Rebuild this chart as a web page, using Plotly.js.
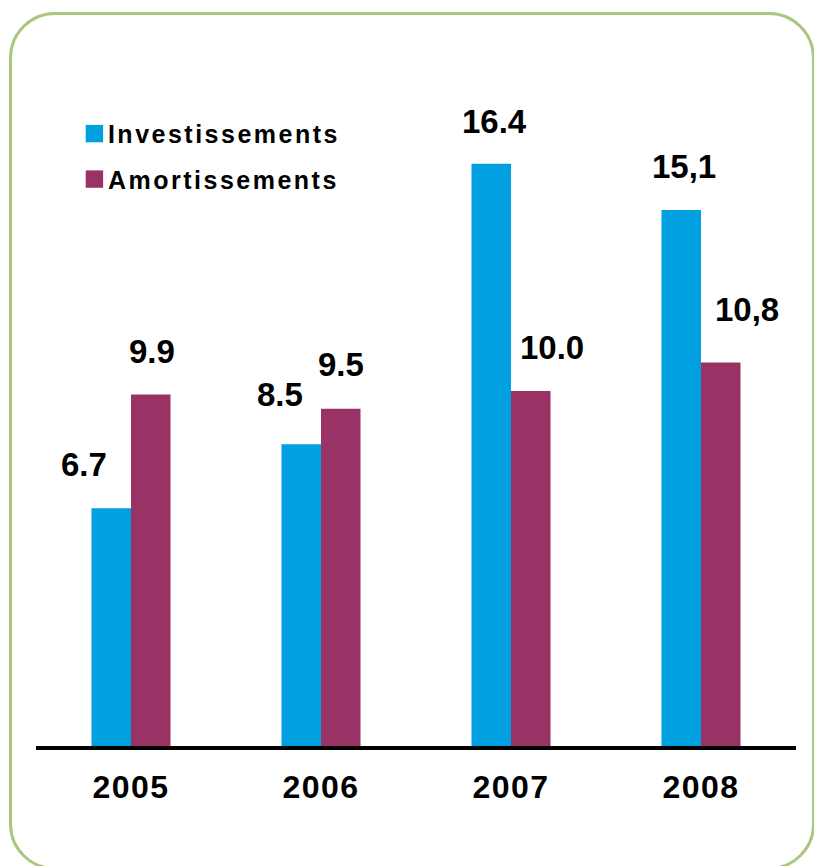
<!DOCTYPE html>
<html>
<head>
<meta charset="utf-8">
<script src="https://cdn.plot.ly/plotly-3.0.1.min.js"></script>
<style>
  html, body { margin: 0; padding: 0; background: #ffffff; overflow: hidden; }
  #wrap { position: relative; width: 814px; height: 866px; overflow: hidden; }
  #frame { position: absolute; left: 9px; top: 12px; width: 806px; height: 858px;
           border: 3px solid #A9C77F; border-radius: 46px; box-sizing: border-box; }
  #chart { position: absolute; left: 0; top: 0; width: 814px; height: 866px; }
  #chart .legend .scrollbox { clip-path: none !important; }
  #chart .legendtext { letter-spacing: 2.5px; }
  #chart .legendpoints path { transform: translate(26.5px, 0px) scale(1.45); }
  #chart .xtick text { letter-spacing: 1.5px; }
</style>
</head>
<body>
<div id="wrap">
  <div id="frame"></div>
  <div id="chart"></div>
</div>
<script>
// ---- data ----
const years = ["2005", "2006", "2007", "2008"];
const investissements = [6.7, 8.5, 16.4, 15.1];
const amortissements = [9.9, 9.5, 10.0, 10.8];
const investLabels = ["6.7", "8.5", "16.4", "15,1"];
const amortLabels = ["9.9", "9.5", "10.0", "10,8"];
const seriesNames = ["Investissements", "Amortissements"];

// ---- styling / label offsets (pixels) ----
const colors = ["#009FE0", "#993366"];
const halfBar = 19.75;
const investOffsets = [[-27, 44], [-21, 50], [3, 42], [3, 43]];
const amortOffsets = [[1, 43], [0, 44], [21, 44], [26, 53]];
const fontFamily = "Liberation Sans, Arial, sans-serif";

const traces = [
  { type: "bar", name: seriesNames[0], x: years, y: investissements,
    marker: { color: colors[0] }, legendgroup: "a" },
  { type: "bar", name: seriesNames[1], x: years, y: amortissements,
    marker: { color: colors[1] }, legendgroup: "b" }
];

const annotations = [];
years.forEach((yr, i) => {
  annotations.push({ x: i, y: investissements[i], xref: "x", yref: "y",
    text: investLabels[i], showarrow: false, xanchor: "center", yanchor: "middle",
    xshift: -halfBar + investOffsets[i][0], yshift: investOffsets[i][1],
    font: { family: fontFamily, size: 33, color: "#000000", weight: 700 } });
  annotations.push({ x: i, y: amortissements[i], xref: "x", yref: "y",
    text: amortLabels[i], showarrow: false, xanchor: "center", yanchor: "middle",
    xshift: halfBar + amortOffsets[i][0], yshift: amortOffsets[i][1],
    font: { family: fontFamily, size: 33, color: "#000000", weight: 700 } });
});

const layout = {
  width: 814, height: 866,
  margin: { l: 36, r: 18, t: 107, b: 120 },
  paper_bgcolor: "rgba(0,0,0,0)",
  plot_bgcolor: "rgba(0,0,0,0)",
  barmode: "group",
  bargap: 0.584,
  bargroupgap: 0,
  showlegend: true,
  legend: {
    x: 0.042, y: 0.994, xanchor: "left", yanchor: "top",
    bgcolor: "rgba(0,0,0,0)", tracegroupgap: 10, traceorder: "grouped",
    font: { family: fontFamily, size: 25, color: "#000000", weight: 700 }
  },
  xaxis: {
    type: "category", range: [-0.5, 3.5], fixedrange: true,
    showline: true, linecolor: "#000000", linewidth: 3.5,
    ticks: "", ticklabelstandoff: 10, showgrid: false, zeroline: false,
    tickfont: { family: fontFamily, size: 32, color: "#000000", weight: 700 }
  },
  yaxis: {
    range: [0, 18], fixedrange: true, showticklabels: false,
    showgrid: false, zeroline: false, showline: false, ticks: ""
  },
  annotations: annotations
};

Plotly.newPlot("chart", traces, layout, { displayModeBar: false, staticPlot: true });
</script>
</body>
</html>
